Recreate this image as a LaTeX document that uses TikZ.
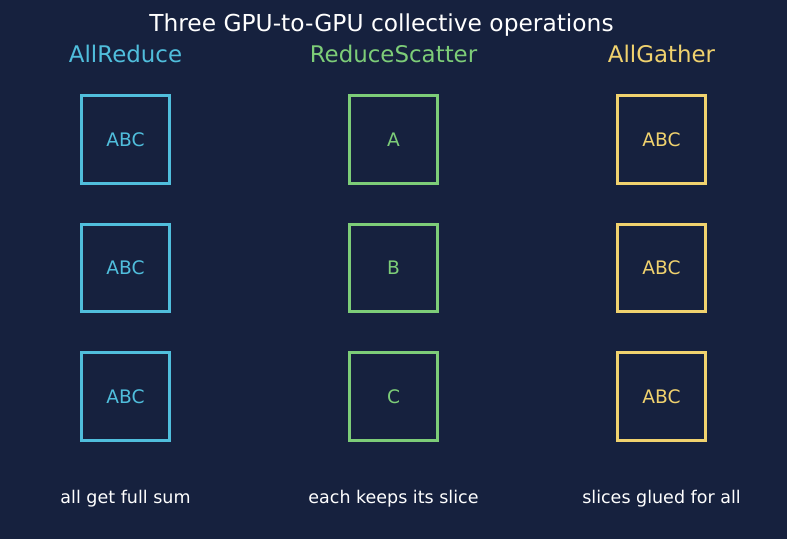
\documentclass[tikz,border=0pt]{standalone}
\usepackage{fontspec}
\setmainfont{DejaVu Sans}
\usetikzlibrary{positioning}
\definecolor{bgnavy}{RGB}{22,33,62}
\definecolor{reducecol}{RGB}{80,190,220}
\definecolor{scattercol}{RGB}{125,205,120}
\definecolor{gathercol}{RGB}{240,210,110}

\begin{document}
\begin{tikzpicture}[
        x=0.72pt, y=-0.72pt,
        node distance=27.4pt,
        gpu/.style={rectangle, draw, line width=2.2pt, minimum size=62.9pt,
                    inner sep=0pt, font=\fontsize{13.4}{15}\selectfont},
        ophead/.style={font=\fontsize{16.5}{19}\selectfont},
        caption/.style={text=white, font=\fontsize{12.6}{15}\selectfont},
    ]
        \fill[bgnavy] (0,0) rectangle (787,539);
        \useasboundingbox (0,0) rectangle (787,539);

        \node[text=white, font=\fontsize{16.8}{20}\selectfont] (title) at (381.5,25.5) {Three GPU-to-GPU collective operations};

        % AllReduce
        \node[ophead, text=reducecol] (arhead) at (125.5,54) {AllReduce};
        \node[gpu, draw=reducecol, text=reducecol] (ar1) at (125.5,139.5) {ABC};
        \node[gpu, draw=reducecol, text=reducecol, below=of ar1] (ar2) {ABC};
        \node[gpu, draw=reducecol, text=reducecol, below=of ar2] (ar3) {ABC};
        \node[caption] (arcap) at (125.5,498.5) {all get full sum};

        % ReduceScatter
        \node[ophead, text=scattercol] (rshead) at (393.5,54) {ReduceScatter};
        \node[gpu, draw=scattercol, text=scattercol] (rs1) at (393.5,139.5) {A};
        \node[gpu, draw=scattercol, text=scattercol, below=of rs1] (rs2) {B};
        \node[gpu, draw=scattercol, text=scattercol, below=of rs2] (rs3) {C};
        \node[caption] (rscap) at (393.5,498.5) {each keeps its slice};

        % AllGather
        \node[ophead, text=gathercol] (aghead) at (661.5,54) {AllGather};
        \node[gpu, draw=gathercol, text=gathercol] (ag1) at (661.5,139.5) {ABC};
        \node[gpu, draw=gathercol, text=gathercol, below=of ag1] (ag2) {ABC};
        \node[gpu, draw=gathercol, text=gathercol, below=of ag2] (ag3) {ABC};
        \node[caption] (agcap) at (661.5,498.5) {slices glued for all};

    \end{tikzpicture}
\end{document}
